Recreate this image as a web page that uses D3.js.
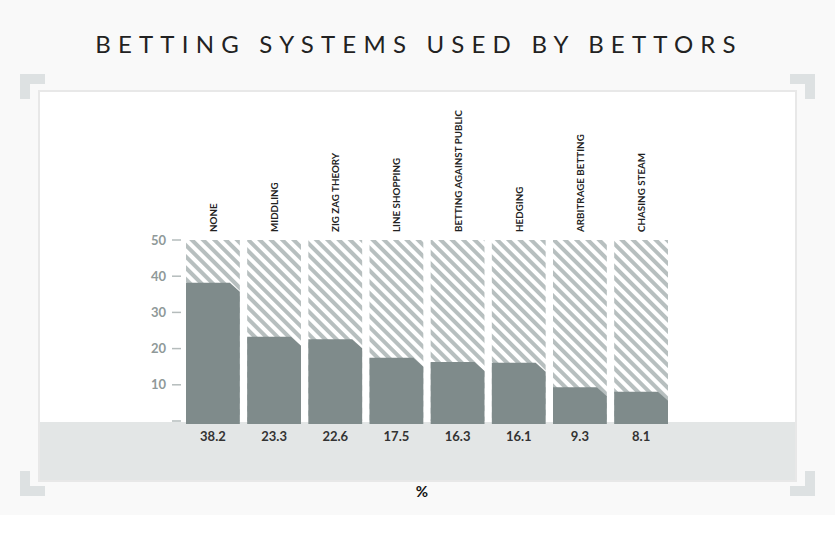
<!DOCTYPE html><html><head><meta charset="utf-8"><script src="https://cdn.jsdelivr.net/npm/d3@7"></script>
<style>body{margin:0;background:#f9f9f9}svg{display:block;font-family:Lato,"Open Sans",sans-serif}</style></head><body><svg id="c" width="835" height="547"></svg>
<script>
const categories=["NONE","MIDDLING","ZIG ZAG THEORY","LINE SHOPPING","BETTING AGAINST PUBLIC","HEDGING","ARBITRAGE BETTING","CHASING STEAM"];
const values=[38.2,23.3,22.6,17.5,16.3,16.1,9.3,8.1];
const ticks=[10,20,30,40,50];
const svg=d3.select("#c");
const defs=svg.append("defs");
const pat=defs.append("pattern").attr("id","h").attr("patternUnits","userSpaceOnUse").attr("width",8).attr("height",8).attr("patternTransform","rotate(45)");
pat.append("rect").attr("width",8).attr("height",8).attr("fill","#fff");
pat.append("rect").attr("width",8).attr("height",4).attr("fill","#b7bfbf");
svg.append("rect").attr("x",0).attr("y",515).attr("width",835).attr("height",32).attr("fill","#fff");
svg.append("text").attr("x",419).attr("y",53).attr("text-anchor","middle").attr("font-size",24).attr("letter-spacing",7.2).attr("fill","#222").text("BETTING SYSTEMS USED BY BETTORS");
const cp=[[20,74,1,1],[815,74,-1,1],[20,496,1,-1],[815,496,-1,-1]];
cp.forEach(([x,y,sx,sy])=>{svg.append("path").attr("fill","#dde1e2").attr("d",`M${x},${y}h${25*sx}v${10*sy}h${-15*sx}v${15*sy}h${-10*sx}z`);});
svg.append("rect").attr("x",38).attr("y",90).attr("width",759).attr("height",392).attr("fill","#e8e8e8");
svg.append("rect").attr("x",40).attr("y",92).attr("width",755).attr("height",388).attr("fill","#fff");
svg.append("rect").attr("x",40).attr("y",422).attr("width",755).attr("height",58).attr("fill","#e3e6e6");
const y=d3.scaleLinear().domain([0,50]).range([421,240]);
const x=d3.scaleBand().domain(categories).range([186,668]).paddingInner(0.12).paddingOuter(0);
const bw=x.bandwidth();
ticks.concat([0]).forEach(t=>{
  svg.append("line").attr("x1",172).attr("x2",181).attr("y1",y(t)).attr("y2",y(t)).attr("stroke","#b5bcbc").attr("stroke-width",1.5);
  if(t>0)svg.append("text").attr("x",166).attr("y",y(t)+4.5).attr("text-anchor","end").attr("font-size",13).attr("font-weight",700).attr("fill","#8f9999").text(t);
});
categories.forEach((c,i)=>{
  const x0=x(c),v=values[i];
  svg.append("rect").attr("x",x0).attr("y",y(50)).attr("width",bw).attr("height",y(0)-y(50)).attr("fill","url(#h)");
  const yt=y(v);
  svg.append("path").attr("fill","#7f8b8b").attr("d",`M${x0},${y(0)+3}V${yt}H${x0+bw-10}L${x0+bw},${yt+9}V${y(0)+3}Z`);
  svg.append("text").attr("transform",`translate(${x0+bw/2+4},232) rotate(-90)`).attr("font-size",9.8).attr("font-weight",700).attr("fill","#222").text(c);
  svg.append("text").attr("x",x0+bw/2).attr("y",441).attr("text-anchor","middle").attr("font-size",13).attr("font-weight",700).attr("fill","#333").text(v.toFixed(1));
});
svg.append("text").attr("x",422).attr("y",497).attr("text-anchor","middle").attr("font-size",15).attr("font-weight",700).attr("fill","#111").text("%");
</script></body></html>
